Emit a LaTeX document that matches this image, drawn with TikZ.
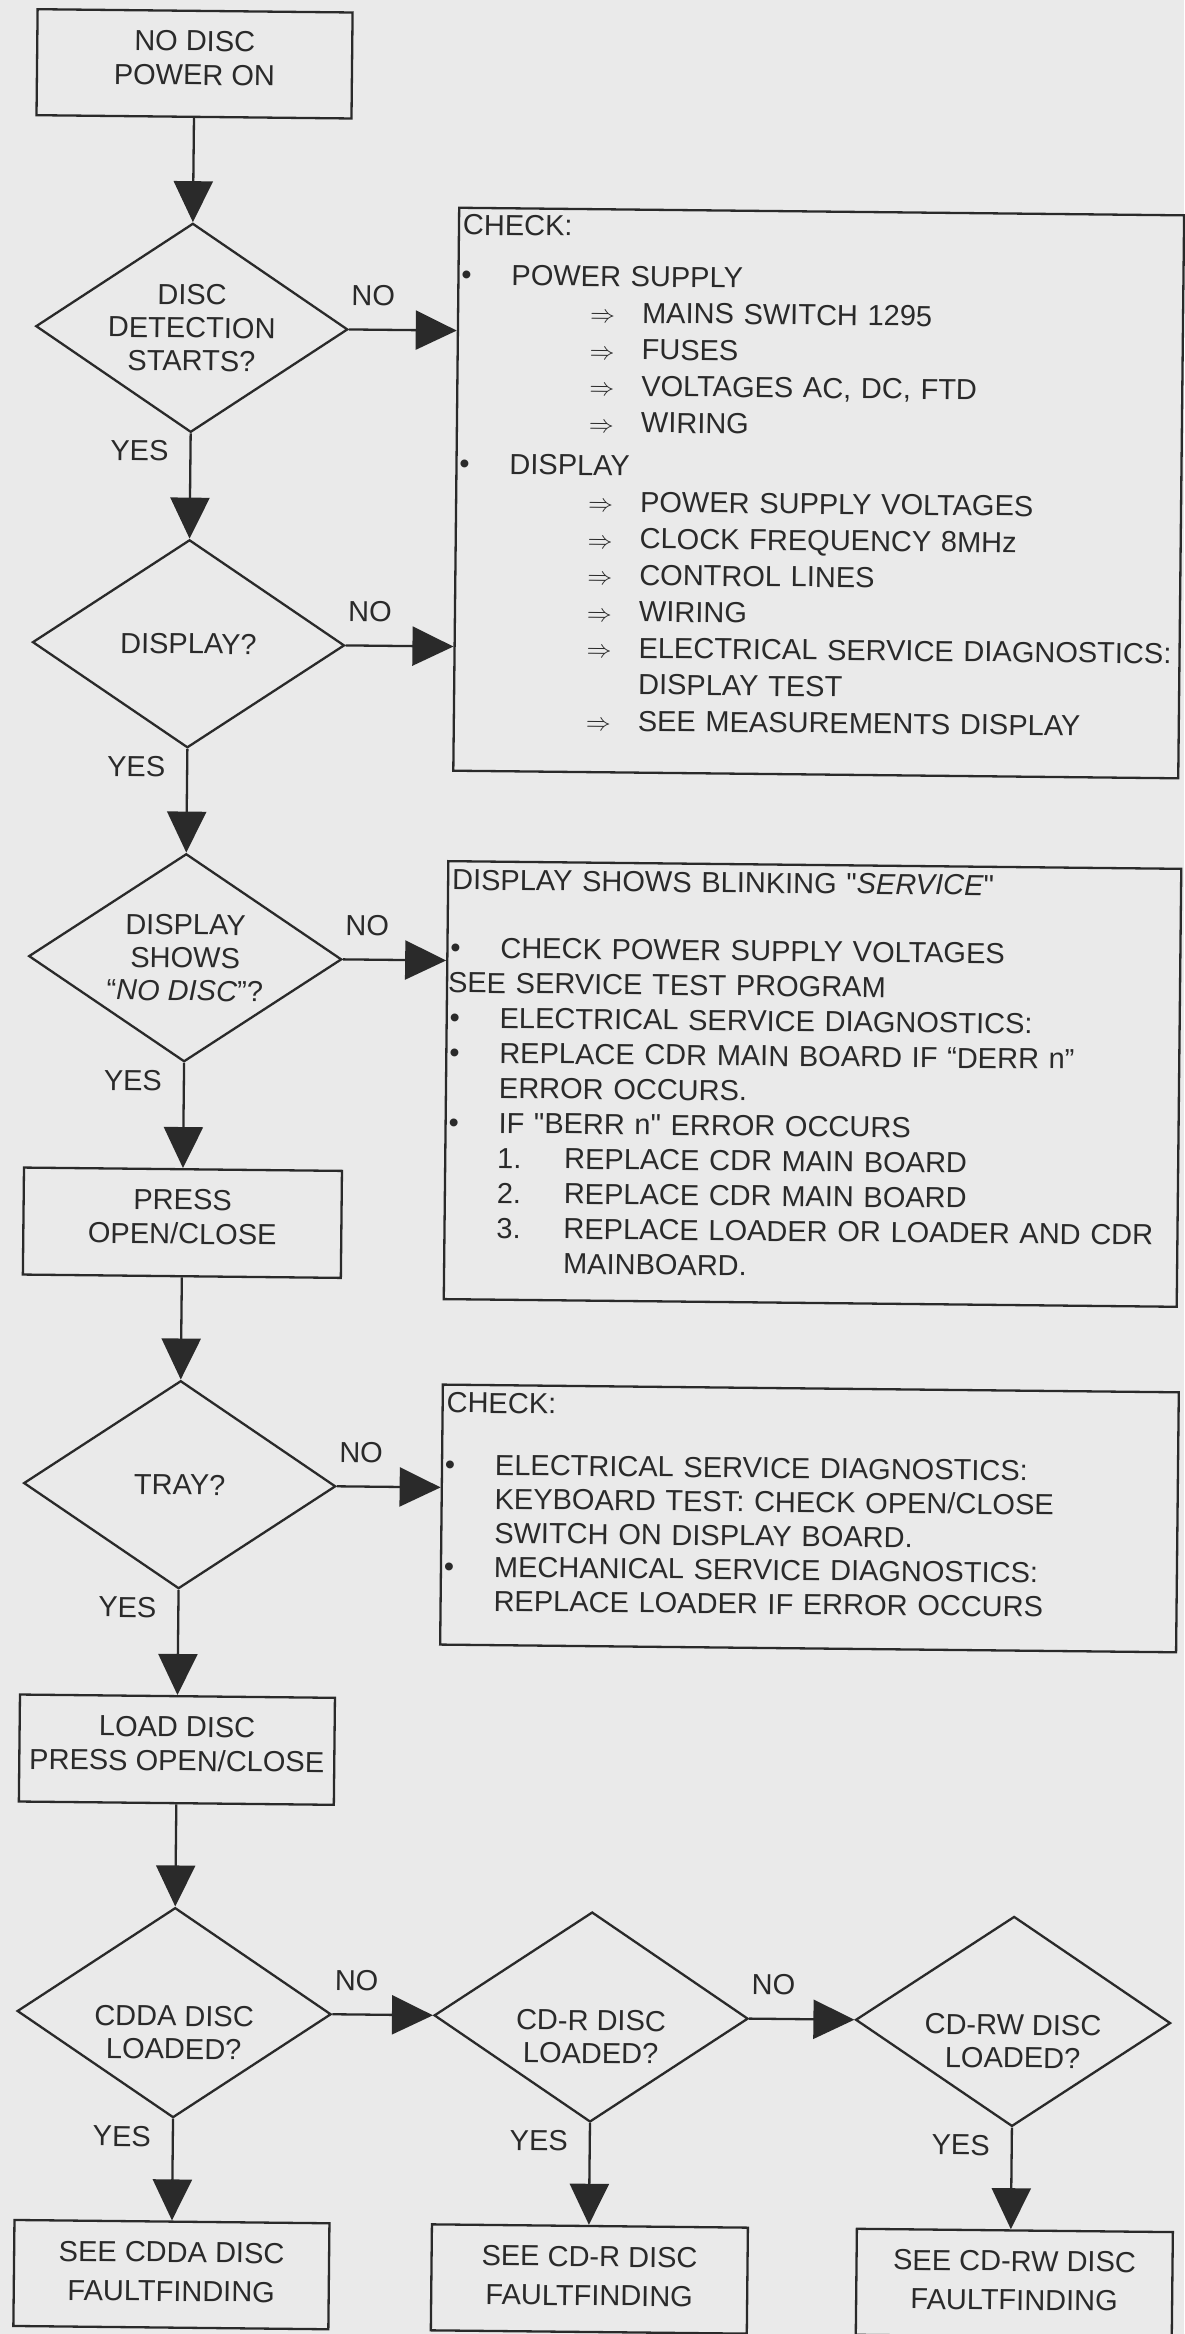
\documentclass[tikz,border=0pt]{standalone}
\usepackage{fontspec}
\setmainfont{Liberation Sans}
\usetikzlibrary{shapes.geometric,arrows.meta}
\definecolor{ink}{RGB}{42,42,42}
\definecolor{paper}{RGB}{234,234,234}
\setlength\parindent{0pt}
% helpers for the check lists
\newcommand\bl[1]{\hspace*{4pt}\makebox[50pt][l]{\textbullet}#1}
\newcommand\ar[1]{\hspace*{133pt}\makebox[52pt][l]{$\Rightarrow$}#1}
\newcommand\ind[2]{\hspace*{#1}#2}
\newcommand\num[2]{\hspace*{53pt}\makebox[67pt][l]{#1}#2}
\newcommand\dropline[1]{\rule[-#1]{0pt}{#1}}
\newcommand\sq{\textquotedbl}
\begin{document}
\begin{tikzpicture}[x=1pt,y=-1pt,
  every node/.style={text=ink},
  box/.style={draw=ink, line width=2.3pt, rectangle, inner sep=0pt, align=center,
              font=\fontsize{29}{34}\selectfont},
  endbox/.style={box, font=\fontsize{29}{39}\selectfont},
  decision/.style={draw=ink, line width=2.3pt, diamond, inner sep=0pt, aspect=1.5},
  dlabel/.style={align=center, inner sep=0pt, font=\fontsize{29}{33}\selectfont},
  notebox/.style={draw=ink, line width=2.3pt, rectangle, inner sep=0pt, anchor=north west},
  notetext/.style={anchor=north west, inner sep=0pt, text width=760pt, align=left},
  branch/.style={inner sep=0pt, font=\fontsize{29}{33}\selectfont},
  flow/.style={draw=ink, line width=2.3pt, -{Triangle[length=41pt,width=39pt]}},
]
\fill[paper] (0,0) rectangle (1184,2334);
\useasboundingbox (0,0) rectangle (1184,2334);

\begin{scope}[rotate around={-0.6:(592,1167)}, transform shape]

% main column
\node[box, minimum width=315pt, minimum height=106pt] (start) at (183,68)
  {NO DISC\\POWER ON\dropline{12pt}};

\node[decision, minimum width=312pt, minimum height=209pt] (d1) at (183,332) {};
\node[dlabel] (d1t) at (d1.center) {DISC\\DETECTION\\STARTS?};

\node[decision, minimum width=312pt, minimum height=208pt] (d2) at (183,648) {};
\node[dlabel] (d2t) at (d2.center) {DISPLAY?};

\node[decision, minimum width=313pt, minimum height=208pt] (d3) at (183,962) {};
\node[dlabel] (d3t) at (d3.center) {DISPLAY\\SHOWS\\“\textit{NO DISC}”?};

\node[box, minimum width=318pt, minimum height=107pt] (press) at (183,1227)
  {PRESS\\OPEN/CLOSE\dropline{12pt}};

\node[decision, minimum width=312pt, minimum height=208pt] (d4) at (183,1489) {};
\node[dlabel] (d4t) at (d4.center) {TRAY?};

\node[box, minimum width=315pt, minimum height=107pt] (load) at (183,1754)
  {LOAD DISC\\PRESS OPEN/CLOSE\dropline{12pt}};

% disc type row
\node[decision, minimum width=314pt, minimum height=210pt] (d5) at (183,2017) {};
\node[dlabel] (d5t) at ([yshift=-20pt]d5.center) {CDDA DISC\\LOADED?};
\node[decision, minimum width=314pt, minimum height=210pt] (d6) at (600,2017) {};
\node[dlabel] (d6t) at ([yshift=-20pt]d6.center) {CD-R DISC\\LOADED?};
\node[decision, minimum width=315pt, minimum height=210pt] (d7) at (1022,2017) {};
\node[dlabel] (d7t) at ([yshift=-20pt]d7.center) {CD-RW DISC\\LOADED?};

\node[endbox, minimum width=315pt, minimum height=106pt] (b5) at (183,2279)
  {SEE CDDA DISC\\FAULTFINDING\dropline{6pt}};
\node[endbox, minimum width=316pt, minimum height=106pt] (b6) at (601,2279)
  {SEE CD-R DISC\\FAULTFINDING\dropline{6pt}};
\node[endbox, minimum width=316pt, minimum height=106pt] (b7) at (1026,2279)
  {SEE CD-RW DISC\\FAULTFINDING\dropline{6pt}};

% check lists
\node[notebox, minimum width=725pt, minimum height=563pt] (c1) at (448,208) {};
\node[notetext, font=\fontsize{29}{36.5}\selectfont] (c1t) at (c1.north west) {%
  \hspace*{5pt}\rule{0pt}{28pt}CHECK:\\[13.5pt]
  \bl{POWER SUPPLY}\\
  \ar{MAINS SWITCH 1295}\\
  \ar{FUSES}\\
  \ar{VOLTAGES AC, DC, FTD}\\
  \ar{WIRING}\\[6.5pt]
  \bl{DISPLAY}\\
  \ar{POWER SUPPLY VOLTAGES}\\
  \ar{CLOCK FREQUENCY 8MHz}\\
  \ar{CONTROL LINES}\\
  \ar{WIRING}\\
  \ar{ELECTRICAL SERVICE DIAGNOSTICS:}\\
  \ind{185pt}{DISPLAY TEST}\\
  \ar{SEE MEASUREMENTS DISPLAY}};

\node[notebox, minimum width=733pt, minimum height=438pt] (c2) at (444,861.5) {};
\node[notetext, font=\fontsize{29}{35}\selectfont] (c2t) at (c2.north west) {%
  \hspace*{5pt}\rule{0pt}{29.5pt}DISPLAY SHOWS BLINKING \sq\textit{SERVICE}\sq\\[33pt]
  \bl{CHECK POWER SUPPLY VOLTAGES}\\
  \ind{2pt}{SEE SERVICE TEST PROGRAM}\\
  \bl{ELECTRICAL SERVICE DIAGNOSTICS:}\\
  \bl{REPLACE CDR MAIN BOARD IF “DERR n”}\\
  \ind{54pt}{ERROR OCCURS.}\\
  \bl{IF \sq BERR n\sq{} ERROR OCCURS}\\
  \num{1.}{REPLACE CDR MAIN BOARD}\\
  \num{2.}{REPLACE CDR MAIN BOARD}\\
  \num{3.}{REPLACE LOADER OR LOADER AND CDR}\\
  \ind{120pt}{MAINBOARD.}};

\node[notebox, minimum width=736pt, minimum height=260pt] (c3) at (444,1385) {};
\node[notetext, font=\fontsize{29}{34}\selectfont] (c3t) at (c3.north west) {%
  \hspace*{5pt}\rule{0pt}{29pt}CHECK:\\[28pt]
  \bl{ELECTRICAL SERVICE DIAGNOSTICS:}\\
  \ind{54pt}{KEYBOARD TEST: CHECK OPEN/CLOSE}\\
  \ind{54pt}{SWITCH ON DISPLAY BOARD.}\\
  \bl{MECHANICAL SERVICE DIAGNOSTICS:}\\
  \ind{54pt}{REPLACE LOADER IF ERROR OCCURS}};

% connectors
\draw[flow] (start.south) -- (d1.north);
\draw[flow] (d1.south) -- (d2.north);
\draw[flow] (d2.south) -- (d3.north);
\draw[flow] (d3.south) -- (press.north);
\draw[flow] (press.south) -- (d4.north);
\draw[flow] (d4.south) -- (load.north);
\draw[flow] (load.south) -- (d5.north);
\draw[flow] (d5.south) -- (d5.south |- b5.north);
\draw[flow] (d6.south) -- (d6.south |- b6.north);
\draw[flow] (d7.south) -- (d7.south |- b7.north);
\draw[flow] (d1.east) -- (d1.east -| c1.west);
\draw[flow] (d2.east) -- (d2.east -| c1.west);
\draw[flow] (d3.east) -- (d3.east -| c2.west);
\draw[flow] (d4.east) -- (d4.east -| c3.west);
\draw[flow] (d5.east) -- (d6.west);
\draw[flow] (d6.east) -- (d7.west);

% branch labels
\node[branch] (d1no)  at ([shift={(24,-34)}]d1.east)  {NO};
\node[branch] (d1yes) at ([shift={(-51,18)}]d1.south) {YES};
\node[branch] (d2no)  at ([shift={(24,-34)}]d2.east)  {NO};
\node[branch] (d2yes) at ([shift={(-51,18)}]d2.south) {YES};
\node[branch] (d3no)  at ([shift={(24,-34)}]d3.east)  {NO};
\node[branch] (d3yes) at ([shift={(-51,18)}]d3.south) {YES};
\node[branch] (d4no)  at ([shift={(24,-34)}]d4.east)  {NO};
\node[branch] (d4yes) at ([shift={(-51,18)}]d4.south) {YES};
\node[branch] (d5no)  at ([shift={(24,-34)}]d5.east)  {NO};
\node[branch] (d5yes) at ([shift={(-51,18)}]d5.south) {YES};
\node[branch] (d6no)  at ([shift={(24,-34)}]d6.east)  {NO};
\node[branch] (d6yes) at ([shift={(-51,18)}]d6.south) {YES};
\node[branch] (d7yes) at ([shift={(-51,18)}]d7.south) {YES};

\end{scope}
\end{tikzpicture}
\end{document}
